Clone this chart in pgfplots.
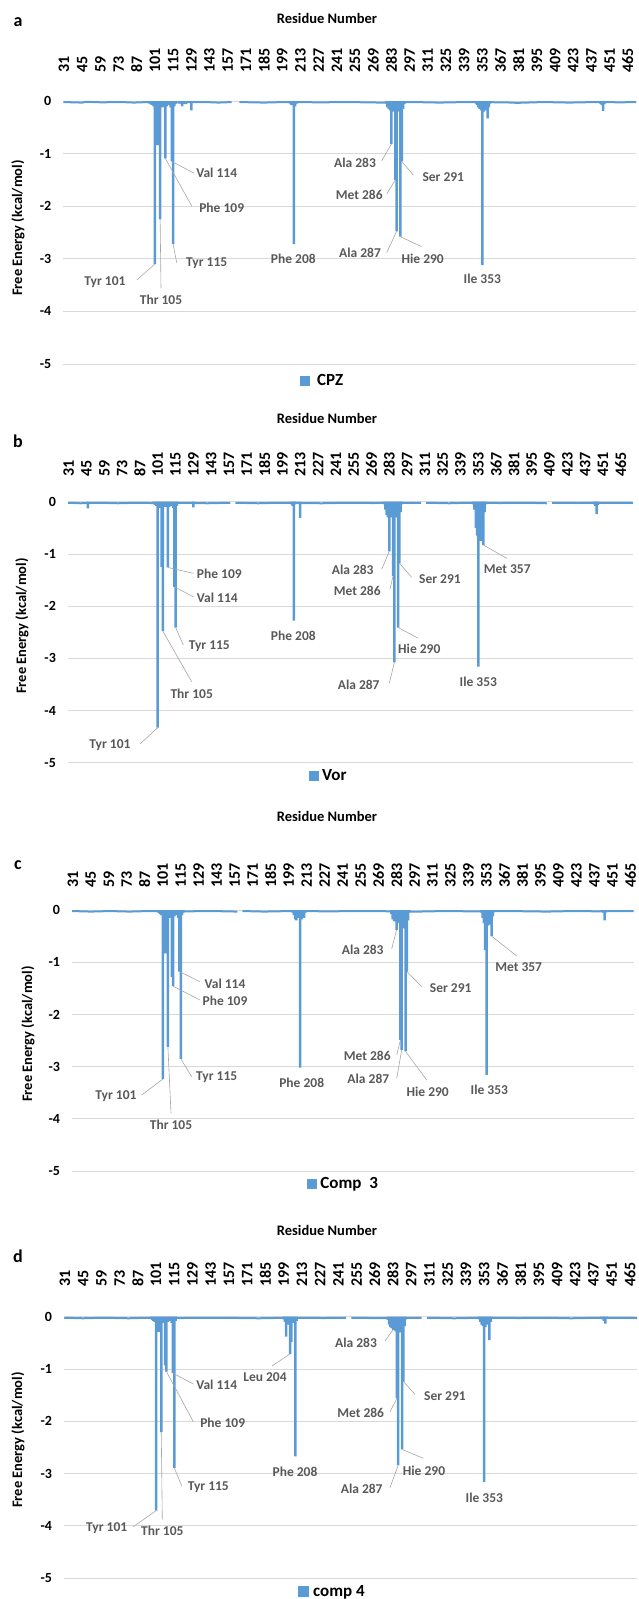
\documentclass[border=0pt]{standalone}
\usepackage{pgfplots}
\pgfplotsset{compat=1.18}
\usepackage{fontspec}
\setmainfont{Carlito}
\definecolor{barblue}{RGB}{91,155,213}
\definecolor{gridgray}{RGB}{217,217,217}
\definecolor{labgray}{RGB}{89,89,89}
\definecolor{leadgray}{RGB}{166,166,166}
\newcommand{\fs}[1]{\fontsize{#1}{#1}\selectfont}
\pgfplotsset{
 panel/.style={
  scale only axis, anchor=north west,
  xmin=30.5, ymin=-5, ymax=0, enlargelimits=false,
  axis line style={draw=none}, major tick length=0pt,
  xtick={31,45,...,465}, xticklabel pos=right,
  xticklabel style={font=\bfseries\fs{16}, rotate=90, anchor=west, inner sep=0pt},
  ytick={-5,-4,...,0},
  yticklabel style={font=\bfseries\fs{14}, anchor=east, inner sep=0pt},
  yticklabel shift=12pt,
  ymajorgrids, grid style={gridgray, line width=0.8pt},
  /pgf/number format/assume math mode=true,
  clip=false, unbounded coords=jump,
  legend style={draw=none, fill=none, inner sep=0pt, anchor=west, font=\bfseries\fs{17},
    nodes={inner sep=0pt}},
  legend cell align=left,
  legend image code/.code={\fill[barblue] (0pt,-5.3pt) rectangle (10.6pt,5.3pt);},
 },
 base/.style={barblue, line width=2pt, forget plot},
 bars/.style={ybar, bar width=2.5pt, fill=barblue, draw=none},
}
\tikzset{
 dl/.style={font=\bfseries\fs{13.5}, text=labgray, inner sep=0pt},
 ll/.style={draw=leadgray, line width=0.6pt},
 ttl/.style={font=\bfseries\fs{14.5}, inner sep=0pt},
 let/.style={font=\bfseries\fs{18}, inner sep=0pt},
}
\begin{document}
\begin{tikzpicture}[x=1pt,y=1pt]
\useasboundingbox (0,0) rectangle (638,-1599);
% ---------------- panel a ----------------
\begin{axis}[panel, at={(63.35pt,-101pt)}, width=572.9pt, height=263pt, xmax=471.5,
  xticklabel shift=28pt,
  legend style={at={(axis description cs:0.412,-0.0646)}}]
\addplot[base] coordinates {(30.5,-0.02)(45,-0.03)(48,-0.015)(60,-0.025)(75,-0.02)(85,-0.03)(95,-0.02)(120,-0.025)(140,-0.02)(150,-0.03)(160,-0.02)(163,nan)(166,-0.02)(185,-0.03)(200,-0.02)(230,-0.025)(250,-0.02)(275,-0.03)(300,-0.02)(320,-0.03)(340,-0.02)(370,-0.025)(380,-0.035)(400,-0.02)(420,-0.03)(440,-0.02)(460,-0.025)(471.5,-0.02)};
\addplot[bars] coordinates {(96,-0.04)(97,-0.05)(98,-0.07)(99,-0.08)(100,-0.1)(101,-3.10)(102,-0.12)(103,-0.84)(104,-0.15)(105,-2.25)(106,-0.12)(107,-0.08)(108,-0.12)(109,-1.09)(110,-0.1)(111,-0.06)(112,-0.08)(113,-0.12)(114,-1.15)(115,-2.72)(116,-0.1)(117,-0.05)(120,-0.05)(122,-0.1)(123,-0.06)(125,-0.06)(129,-0.18)
(205,-0.05)(206,-0.08)(207,-0.06)(208,-2.72)(209,-0.1)(210,-0.05)
(279,-0.05)(280,-0.12)(281,-0.15)(282,-0.18)(283,-0.82)(284,-0.17)(285,-0.2)(286,-1.50)(287,-2.48)(288,-0.2)(289,-0.17)(290,-2.58)(291,-1.15)(292,-0.15)(293,-0.06)
(348,-0.05)(349,-0.08)(350,-0.12)(351,-0.15)(352,-0.18)(353,-3.12)(354,-0.2)(355,-0.18)(356,-0.15)(357,-0.33)(358,-0.12)(359,-0.05)
(443,-0.03)(444,-0.06)(445,-0.08)(446,-0.19)(447,-0.06)};
\addlegendentry{\hspace{7pt}CPZ}
\coordinate (a101) at (axis cs:101,-3.10); \coordinate (a105) at (axis cs:105,-2.25);
\coordinate (a109) at (axis cs:109,-1.09); \coordinate (a114) at (axis cs:114,-1.15);
\coordinate (a115) at (axis cs:115,-2.72); \coordinate (a283) at (axis cs:283,-0.82);
\coordinate (a286) at (axis cs:286,-1.50); \coordinate (a287) at (axis cs:287,-2.48);
\coordinate (a290) at (axis cs:290,-2.58); \coordinate (a291) at (axis cs:291,-1.15);
\end{axis}
\node[let] at (18,-22) {a};
\node[ttl] at (327,-18.4) {Residue Number};
\node[ttl, rotate=90] at (18,-228) {Free Energy (kcal/mol)};
\node[dl] at (216.7,-173.3) {Val 114}; \draw[ll] (a114) -- (194.3,-173.3);
\node[dl] at (221.7,-208.3) {Phe 109}; \draw[ll] (a109) -- (191.7,-206);
\node[dl] at (206.7,-263.3) {Tyr 115}; \draw[ll] (a115) -- (176.7,-262.7);
\node[dl] at (293.3,-259) {Phe 208};
\node[dl] at (105,-281.7) {Tyr 101}; \draw[ll] (a101) -- (136.7,-280);
\node[dl] at (161,-300) {Thr 105}; \draw[ll] (a105) -- (161,-288);
\node[dl] at (355,-162.7) {Ala 283}; \draw[ll] (a283) -- (381.7,-160.7);
\node[dl] at (443.3,-176.7) {Ser 291}; \draw[ll] (a291) -- (413.3,-175);
\node[dl] at (359.3,-195) {Met 286}; \draw[ll] (a286) -- (386.7,-194);
\node[dl] at (360,-253.3) {Ala 287}; \draw[ll] (a287) -- (386.7,-252.7);
\node[dl] at (422.7,-259) {Hie 290}; \draw[ll] (a290) -- (421.7,-246.7);
\node[dl] at (482.3,-279.3) {Ile 353};
% ---------------- panel b ----------------
\begin{axis}[panel, at={(68.06pt,-501.7pt)}, width=564.8pt, height=261pt, xmax=474.5,
  xticklabel shift=25pt,
  legend style={at={(axis description cs:0.4254,-0.051)}}]
\addplot[base] coordinates {(30.5,-0.02)(40,-0.03)(55,-0.02)(70,-0.03)(85,-0.02)(95,-0.025)(120,-0.02)(140,-0.03)(158,-0.02)(160,nan)(162,-0.02)(180,-0.03)(195,-0.02)(230,-0.03)(250,-0.02)(270,-0.025)(300,-0.02)(308,-0.02)(310,nan)(312,-0.02)(330,-0.03)(345,-0.02)(370,-0.025)(390,-0.02)(407,-0.03)(409,nan)(411,-0.02)(430,-0.025)(450,-0.02)(474.5,-0.025)};
\addplot[bars] coordinates {(46,-0.13)(98,-0.05)(99,-0.06)(100,-0.08)(101,-4.33)(102,-0.1)(103,-0.12)(104,-1.25)(105,-2.48)(106,-0.1)(107,-0.08)(108,-0.1)(109,-1.26)(110,-0.1)(112,-0.08)(113,-0.12)(114,-1.63)(115,-2.41)(116,-0.08)(129,-0.11)
(206,-0.05)(207,-0.08)(208,-2.28)(209,-0.05)(213,-0.31)
(279,-0.05)(280,-0.15)(281,-0.25)(282,-0.3)(283,-0.95)(284,-0.3)(285,-0.28)(286,-1.42)(287,-3.08)(288,-0.3)(289,-0.28)(290,-2.41)(291,-1.18)(292,-0.2)(293,-0.05)
(349,-0.05)(350,-0.15)(351,-0.5)(352,-0.65)(353,-3.16)(354,-0.7)(355,-0.75)(356,-0.72)(357,-0.83)(358,-0.2)(359,-0.05)
(444,-0.05)(445,-0.08)(446,-0.24)(447,-0.06)};
\addlegendentry{\hspace{3pt}Vor}
\coordinate (b101) at (axis cs:101,-4.33); \coordinate (b105) at (axis cs:105,-2.48);
\coordinate (b109) at (axis cs:109,-1.26); \coordinate (b114) at (axis cs:114,-1.63);
\coordinate (b115) at (axis cs:115,-2.41); \coordinate (b283) at (axis cs:283,-0.95);
\coordinate (b286) at (axis cs:286,-1.42); \coordinate (b287) at (axis cs:287,-3.08);
\coordinate (b290) at (axis cs:290,-2.41); \coordinate (b291) at (axis cs:291,-1.18);
\coordinate (b357) at (axis cs:357,-0.83);
\end{axis}
\node[let] at (18,-441) {b};
\node[ttl] at (327,-418) {Residue Number};
\node[ttl, rotate=90] at (22,-626) {Free Energy (kcal/mol)};
\node[dl] at (219.3,-574) {Phe 109}; \draw[ll] (b109) -- (193.3,-573.3);
\node[dl] at (217.3,-597.7) {Val 114}; \draw[ll] (b114) -- (193.3,-596.7);
\node[dl] at (209.3,-645.7) {Tyr 115}; \draw[ll] (b115) -- (183.3,-645);
\node[dl] at (191.7,-694) {Thr 105}; \draw[ll] (b105) -- (191.7,-681.7);
\node[dl] at (110,-745.3) {Tyr 101}; \draw[ll] (b101) -- (140,-744);
\node[dl] at (293.3,-635.7) {Phe 208};
\node[dl] at (352.7,-570) {Ala 283}; \draw[ll] (b283) -- (381.7,-569.3);
\node[dl] at (357.3,-590.7) {Met 286}; \draw[ll] (b286) -- (390,-589.3);
\node[dl] at (440,-579) {Ser 291}; \draw[ll] (b291) -- (411.7,-577.3);
\node[dl] at (419.3,-649.3) {Hie 290}; \draw[ll] (b290) -- (418.3,-638.3);
\node[dl] at (358.7,-685) {Ala 287}; \draw[ll] (b287) -- (389.3,-683.3);
\node[dl] at (478.3,-681.7) {Ile 353};
\node[dl] at (507.3,-569) {Met 357}; \draw[ll] (b357) -- (506.7,-558.3);
% ---------------- panel c ----------------
\begin{axis}[panel, at={(72.2pt,-910pt)}, width=561.4pt, height=261pt, xmax=467.5,
  xticklabel shift=22pt,
  legend style={at={(axis description cs:0.4177,-0.0498)}}]
\addplot[base] coordinates {(30.5,-0.02)(45,-0.03)(60,-0.02)(75,-0.03)(90,-0.02)(120,-0.025)(140,-0.02)(159,-0.03)(161,nan)(163,-0.02)(180,-0.03)(200,-0.02)(230,-0.025)(260,-0.02)(300,-0.03)(320,-0.02)(340,-0.025)(370,-0.02)(400,-0.03)(420,-0.02)(440,-0.025)(467.5,-0.02)};
\addplot[bars] coordinates {(97,-0.04)(98,-0.06)(99,-0.08)(100,-0.1)(101,-3.24)(102,-0.12)(103,-0.83)(104,-0.15)(105,-2.62)(106,-0.12)(107,-0.15)(108,-1.28)(109,-1.46)(110,-0.12)(111,-0.08)(112,-0.1)(113,-0.15)(114,-1.18)(115,-2.85)(116,-0.1)(117,-0.05)
(202,-0.05)(203,-0.1)(204,-0.18)(205,-0.2)(206,-0.15)(207,-0.12)(208,-3.02)(209,-0.18)(210,-0.1)(211,-0.15)(212,-0.05)
(279,-0.08)(280,-0.18)(281,-0.22)(282,-0.22)(283,-0.38)(284,-0.22)(285,-0.25)(286,-2.49)(287,-2.68)(288,-0.35)(289,-0.22)(290,-2.71)(291,-1.18)(292,-0.2)(293,-0.05)
(349,-0.05)(350,-0.15)(351,-0.25)(352,-0.77)(353,-3.16)(354,-0.3)(355,-0.28)(356,-0.25)(357,-0.5)(358,-0.12)(359,-0.04)
(443,-0.03)(444,-0.05)(445,-0.2)(446,-0.04)};
\addlegendentry{\hspace{3pt}Comp~ 3}
\coordinate (c101) at (axis cs:101,-3.24); \coordinate (c105) at (axis cs:105,-2.62);
\coordinate (c109) at (axis cs:109,-1.46); \coordinate (c114) at (axis cs:114,-1.18);
\coordinate (c115) at (axis cs:115,-2.85); \coordinate (c283) at (axis cs:283,-0.38);
\coordinate (c286) at (axis cs:286,-2.49); \coordinate (c287) at (axis cs:287,-2.68);
\coordinate (c290) at (axis cs:290,-2.71); \coordinate (c291) at (axis cs:291,-1.18);
\coordinate (c357) at (axis cs:357,-0.5);
\end{axis}
\node[let] at (18,-865) {c};
\node[ttl] at (327,-816) {Residue Number};
\node[ttl, rotate=90] at (28,-1034) {Free Energy (kcal/mol)};
\node[dl] at (225,-983.3) {Val 114}; \draw[ll] (c114) -- (200,-981.7);
\node[dl] at (225,-1001) {Phe 109}; \draw[ll] (c109) -- (200,-1000);
\node[dl] at (216.7,-1077.3) {Tyr 115}; \draw[ll] (c115) -- (191.7,-1076.7);
\node[dl] at (116,-1095.7) {Tyr 101}; \draw[ll] (c101) -- (141.7,-1095);
\node[dl] at (171,-1125) {Thr 105}; \draw[ll] (c105) -- (171,-1113.3);
\node[dl] at (301.7,-1082.7) {Phe 208};
\node[dl] at (362.7,-950) {Ala 283}; \draw[ll] (c283) -- (391.7,-949);
\node[dl] at (450.7,-988.3) {Ser 291}; \draw[ll] (c291) -- (421.7,-986.7);
\node[dl] at (367.3,-1056) {Met 286}; \draw[ll] (c286) -- (396.7,-1055);
\node[dl] at (368.3,-1079) {Ala 287}; \draw[ll] (c287) -- (396.7,-1078.3);
\node[dl] at (427.7,-1091.7) {Hie 290}; \draw[ll] (c290) -- (426.7,-1080);
\node[dl] at (489.3,-1090) {Ile 353};
\node[dl] at (518.7,-967.3) {Met 357}; \draw[ll] (c357) -- (516.7,-956);
% ---------------- panel d ----------------
\begin{axis}[panel, at={(64.25pt,-1316.7pt)}, width=572.9pt, height=261.3pt, xmax=470.5,
  xticklabel shift=30pt,
  legend style={at={(axis description cs:0.4085,-0.0524)}}]
\addplot[base] coordinates {(30.5,-0.02)(45,-0.03)(60,-0.02)(80,-0.03)(95,-0.02)(120,-0.025)(150,-0.02)(180,-0.03)(200,-0.02)(230,-0.025)(247,-0.02)(249,nan)(251,-0.02)(280,-0.03)(305,-0.02)(307,nan)(309,-0.02)(330,-0.03)(350,-0.02)(380,-0.025)(400,-0.02)(420,-0.03)(440,-0.02)(470.5,-0.025)};
\addplot[bars] coordinates {(97,-0.04)(98,-0.06)(99,-0.08)(100,-0.1)(101,-3.71)(102,-0.12)(103,-0.29)(104,-0.12)(105,-2.21)(106,-0.1)(107,-0.12)(108,-0.93)(109,-1.05)(110,-0.1)(111,-0.06)(112,-0.08)(113,-0.12)(114,-1.08)(115,-2.89)(116,-0.08)
(199,-0.05)(200,-0.1)(201,-0.38)(202,-0.12)(203,-0.15)(204,-0.71)(205,-0.48)(206,-0.12)(207,-0.1)(208,-2.67)(209,-0.08)
(279,-0.06)(280,-0.15)(281,-0.2)(282,-0.22)(283,-0.25)(284,-0.25)(285,-0.28)(286,-1.56)(287,-2.84)(288,-0.3)(289,-0.25)(290,-2.54)(291,-1.24)(292,-0.18)(293,-0.05)
(349,-0.05)(350,-0.1)(351,-0.15)(352,-0.18)(353,-3.16)(354,-0.2)(355,-0.15)(356,-0.12)(357,-0.45)(358,-0.1)(359,-0.04)
(443,-0.03)(444,-0.05)(445,-0.08)(446,-0.13)(447,-0.04)};
\addlegendentry{\hspace{4pt}comp 4}
\coordinate (d101) at (axis cs:101,-3.71); \coordinate (d105) at (axis cs:105,-2.21);
\coordinate (d109) at (axis cs:109,-1.05); \coordinate (d114) at (axis cs:114,-1.08);
\coordinate (d115) at (axis cs:115,-2.89); \coordinate (d204) at (axis cs:204,-0.71);
\coordinate (d283) at (axis cs:283,-0.25);
\coordinate (d286) at (axis cs:286,-1.56); \coordinate (d287) at (axis cs:287,-2.84);
\coordinate (d290) at (axis cs:290,-2.54); \coordinate (d291) at (axis cs:291,-1.24);
\end{axis}
\node[let] at (18,-1256) {d};
\node[ttl] at (327,-1230) {Residue Number};
\node[ttl, rotate=90] at (18,-1440) {Free Energy (kcal/mol)};
\node[dl] at (216.7,-1385) {Val 114}; \draw[ll] (d114) -- (193.3,-1384);
\node[dl] at (265,-1377.3) {Leu 204}; \draw[ll] (d204) -- (272,-1366);
\node[dl] at (222.7,-1422.3) {Phe 109}; \draw[ll] (d109) -- (193.3,-1421.7);
\node[dl] at (208.3,-1486.7) {Tyr 115}; \draw[ll] (d115) -- (181.7,-1486);
\node[dl] at (106.7,-1527.7) {Tyr 101}; \draw[ll] (d101) -- (133.3,-1526.7);
\node[dl] at (162.3,-1531) {Thr 105}; \draw[ll] (d105) -- (162.3,-1519.3);
\node[dl] at (295,-1471.3) {Phe 208};
\node[dl] at (356,-1342.3) {Ala 283}; \draw[ll] (d283) -- (385,-1341);
\node[dl] at (445,-1396) {Ser 291}; \draw[ll] (d291) -- (415,-1394.3);
\node[dl] at (360.7,-1412.7) {Met 286}; \draw[ll] (d286) -- (390,-1411.7);
\node[dl] at (424,-1470.7) {Hie 290}; \draw[ll] (d290) -- (423.3,-1458.3);
\node[dl] at (361.7,-1489) {Ala 287}; \draw[ll] (d287) -- (390,-1487.7);
\node[dl] at (484.3,-1497.3) {Ile 353};
\end{tikzpicture}
\end{document}
